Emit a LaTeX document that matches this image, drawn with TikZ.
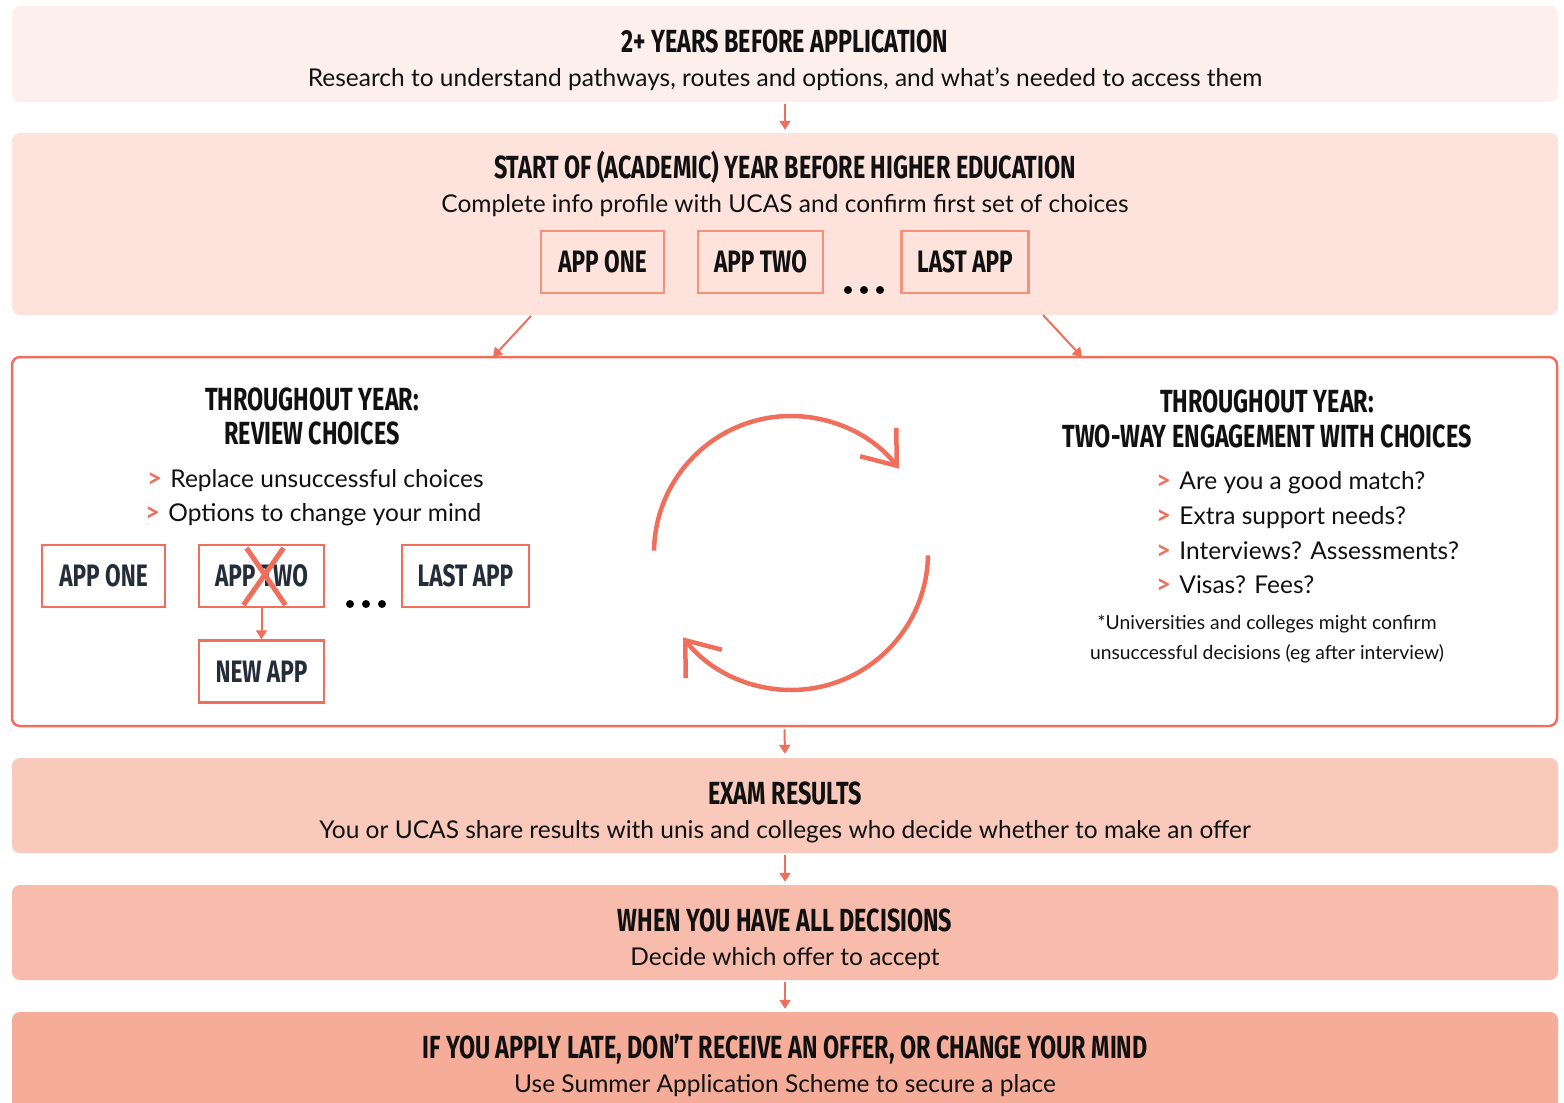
\documentclass[tikz,border=0pt]{standalone}
\usepackage{fontspec}
\setmainfont{Lato}
\newfontfamily\hfont[FakeStretch=0.73]{Fira Sans}
\usetikzlibrary{arrows.meta,calc}
\definecolor{accent}{HTML}{EF6F5C}
\definecolor{appedge}{HTML}{F4917B}
\definecolor{cA}{HTML}{FDF0EC}
\definecolor{cB}{HTML}{FDE3DC}
\definecolor{cC}{HTML}{F9CABC}
\definecolor{cD}{HTML}{F8BCAD}
\definecolor{cE}{HTML}{F5AD9A}
\definecolor{ink}{HTML}{111111}
\definecolor{navy}{HTML}{252D3B}
\newcommand{\bul}{{\textcolor{accent}{\bfseries\fontsize{26}{28}\selectfont >}}\,\,}
\begin{document}
\begin{tikzpicture}[x=1pt,y=-1pt,
  band/.style={fill=#1,draw=none,rounded corners=8pt,inner sep=0pt,minimum width=1546pt},
  hd/.style={font=\hfont\bfseries\fontsize{32}{36}\selectfont,text=ink,anchor=base,inner sep=0pt},
  bd/.style={font=\fontsize{24.5}{28}\selectfont,text=ink,anchor=base,inner sep=0pt},
  fn/.style={font=\fontsize{19.3}{22}\selectfont,text=ink,anchor=base,inner sep=0pt},
  appbox/.style={draw=#1,line width=2.5pt,minimum height=62pt,inner sep=0pt,font=\hfont\bfseries\fontsize{31}{36}\selectfont},
  flow/.style={draw=accent,line width=2pt,-{Triangle[length=9pt,width=11pt]}},
  cyc/.style={draw=accent,line width=4.5pt,-{Straight Barb[length=30pt,width=46pt,line width=4.5pt]}},
  dotc/.style={circle,fill=black,inner sep=0pt,minimum size=8pt}
]
\useasboundingbox (0,0) rectangle (1564,1103);
\fill[white] (0,0) rectangle (1564,1103);

% bands
\node[band=cA,minimum height=96pt] (b1) at (785,54) {};
\node[band=cB,minimum height=182pt] (b2) at (785,224) {};
\node[draw=accent,fill=white,line width=2.5pt,rounded corners=8pt,minimum width=1545pt,minimum height=369pt,inner sep=0pt] (b3) at (784.5,541.5) {};
\node[band=cC,minimum height=95pt] (b4) at (785,805.5) {};
\node[band=cD,minimum height=95pt] (b5) at (785,932.5) {};
\node[band=cE,minimum height=108pt] (b6) at (785,1066) {};

% band texts
\node[hd] (t1) at (785,52) {2+ YEARS BEFORE APPLICATION};
\node[bd] (s1) at (785,86) {Research to understand pathways, routes and options, and what’s needed to access them};
\node[hd] (t2) at (785,178) {START OF (ACADEMIC) YEAR BEFORE HIGHER EDUCATION};
\node[bd] (s2) at (785,212) {Complete info profile with UCAS and confirm first set of choices};
\node[hd] (t4) at (785,804) {EXAM RESULTS};
\node[bd] (s4) at (785,838) {You or UCAS share results with unis and colleges who decide whether to make an offer};
\node[hd] (t5) at (785,931) {WHEN YOU HAVE ALL DECISIONS};
\node[bd] (s5) at (785,965) {Decide which offer to accept};
\node[hd] (t6) at (785,1058) {IF YOU APPLY LATE, DON’T RECEIVE AN OFFER, OR CHANGE YOUR MIND};
\node[bd] (s6) at (785,1092) {Use Summer Application Scheme to secure a place};

% top app boxes
\node[appbox=appedge,minimum width=123pt,text=ink] (ta1) at (602.5,262) {APP ONE};
\node[appbox=appedge,minimum width=125pt,text=ink] (ta2) at (760.5,262) {APP TWO};
\node[appbox=appedge,minimum width=127pt,text=ink] (ta3) at (965,262) {LAST APP};
\node[dotc] (td1) at (848,290) {};
\node[dotc] (td2) at (864,290) {};
\node[dotc] (td3) at (880,290) {};

% flow arrows
\draw[flow,shorten <=2pt,shorten >=3pt] (b1.south) -- (b2.north);
\coordinate (d1s) at (531,316);
\coordinate (d1e) at (493,357);
\coordinate (d2s) at (1043,315);
\coordinate (d2e) at (1082,357);
\draw[flow] (d1s) -- (d1e);
\draw[flow] (d2s) -- (d2e);
\draw[flow,shorten <=2pt,shorten >=4pt] (b3.south) -- (b4.north);
\draw[flow,shorten <=2pt,shorten >=3pt] (b4.south) -- (b5.north);
\draw[flow,shorten <=2pt,shorten >=3pt] (b5.south) -- (b6.north);

% left panel
\node[hd] (lt1) at (312,410) {THROUGHOUT YEAR:};
\node[hd] (lt2) at (312,444) {REVIEW CHOICES};
\node[bd,anchor=base west] (lb1) at (147,487) {\bul Replace unsuccessful choices};
\node[bd,anchor=base west] (lb2) at (145,521) {\bul Options to change your mind};

\node[appbox=accent,minimum width=123pt,text=navy] (a1) at (103.5,576) {APP ONE};
\node[appbox=accent,minimum width=125pt,text=navy] (a2) at (261.5,576) {APP TWO};
\node[appbox=accent,minimum width=127pt,text=navy] (a3) at (465.5,576) {LAST APP};
\node[appbox=accent,minimum width=125pt,text=navy] (a4) at (261.5,671.5) {NEW APP};
\node[dotc] (bd1) at (350,604) {};
\node[dotc] (bd2) at (366,604) {};
\node[dotc] (bd3) at (382,604) {};
\draw[accent,line width=5pt] ($(a2.center)+(-15,-28)$) -- ($(a2.center)+(24,29)$);
\draw[accent,line width=5pt] ($(a2.center)+(22,-28)$) -- ($(a2.center)+(-18,29)$);
\draw[flow] (a2.south) -- (a4.north);

% cycle
\coordinate (cc) at (791,553);
\draw[cyc] ($(cc)+(181:137)$) arc[start angle=181,end angle=322,radius=137];
\draw[cyc] ($(cc)+(1:137)$) arc[start angle=1,end angle=142,radius=137];

% right panel
\node[hd] (rt1) at (1267,412) {THROUGHOUT YEAR:};
\node[hd] (rt2) at (1267,447) {TWO-WAY ENGAGEMENT WITH CHOICES};
\node[bd,anchor=base west] (rb1) at (1156,489) {\bul Are you a good match?};
\node[bd,anchor=base west] (rb2) at (1156,524) {\bul Extra support needs?};
\node[bd,anchor=base west] (rb3) at (1156,559) {\bul Interviews? Assessments?};
\node[bd,anchor=base west] (rb4) at (1156,593) {\bul Visas? Fees?};
\node[fn] (f1) at (1267,629) {*Universities and colleges might confirm};
\node[fn] (f2) at (1267,659) {unsuccessful decisions (eg after interview)};
\end{tikzpicture}
\end{document}
